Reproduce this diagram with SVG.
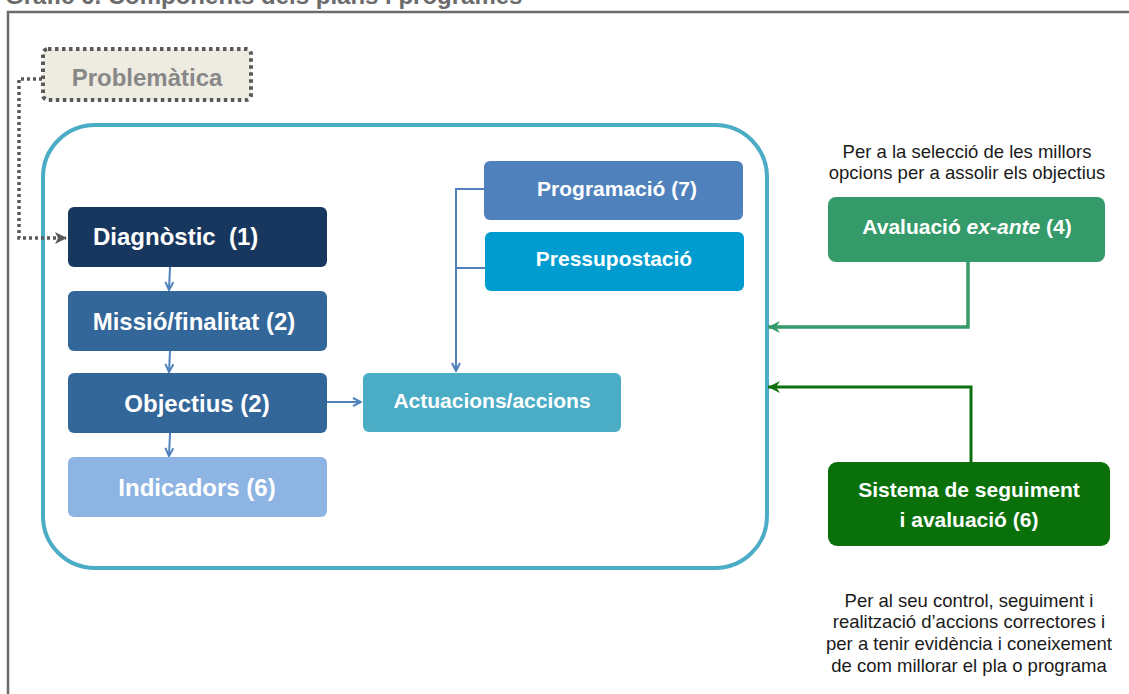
<svg xmlns="http://www.w3.org/2000/svg" width="1129" height="694" viewBox="0 0 1129 694">
  <defs>
    <style>
      .lbl { font-family: "Liberation Sans", Arial, sans-serif; font-weight: bold; font-size: 24px; fill: #ffffff; text-anchor: middle; }
      .lbl.sm { font-size: 21px; }
      .note { font-family: "Liberation Sans", Arial, sans-serif; font-size: 18.5px; fill: #1a1a1a; text-anchor: middle; }
      .blue { stroke: #4f81bd; stroke-width: 2; fill: none; }
    </style>
    <marker id="arrBlue" markerWidth="10" markerHeight="10" refX="9" refY="5" orient="auto" markerUnits="userSpaceOnUse">
      <path d="M1,1 L9,5 L1,9" fill="none" stroke="#4f81bd" stroke-width="2"/>
    </marker>
    <marker id="arrGray" markerWidth="12" markerHeight="12" refX="11" refY="6" orient="auto" markerUnits="userSpaceOnUse">
      <path d="M0,0 L12,6 L0,12 L3,6 Z" fill="#595959"/>
    </marker>
    <marker id="arrGreenA" markerWidth="14" markerHeight="14" refX="13" refY="7" orient="auto" markerUnits="userSpaceOnUse">
      <path d="M1,1 L13,7 L1,13 L5,7 Z" fill="#359a6a"/>
    </marker>
    <marker id="arrGreenB" markerWidth="14" markerHeight="14" refX="13" refY="7" orient="auto" markerUnits="userSpaceOnUse">
      <path d="M1,1 L13,7 L1,13 L5,7 Z" fill="#0a700a"/>
    </marker>
  </defs>

  <rect width="1129" height="694" fill="#ffffff"/>

  <!-- title (runs off the top edge) -->
  <text x="5" y="4" font-family="'Liberation Sans', Arial, sans-serif" font-weight="bold" font-size="24" fill="#6b6b6b">Gràfic 6. Components dels plans i programes</text>

  <!-- outer frame -->
  <path d="M8,694 L8,12 L1129,12" fill="none" stroke="#6b6b6b" stroke-width="2.5"/>

  <!-- plan container -->
  <rect x="43" y="125" width="724" height="443" rx="52" ry="52" fill="none" stroke="#4bacc6" stroke-width="4"/>

  <g id="connectors">
    <!-- problem statement feeds diagnosis -->
    <path d="M42,79 L19,79 L19,238 L66,238" fill="none" stroke="#595959" stroke-width="3.5" stroke-dasharray="3,3" marker-end="url(#arrGray)"/>
    <!-- left column chain -->
    <line class="blue" x1="170" y1="267" x2="169" y2="290" marker-end="url(#arrBlue)"/>
    <line class="blue" x1="170" y1="351" x2="169" y2="372" marker-end="url(#arrBlue)"/>
    <line class="blue" x1="170" y1="433" x2="169" y2="456" marker-end="url(#arrBlue)"/>
    <line class="blue" x1="327" y1="402" x2="361" y2="402" marker-end="url(#arrBlue)"/>
    <!-- programming / budgeting into actions -->
    <path class="blue" d="M484,189 L456,189 L456,371" marker-end="url(#arrBlue)"/>
    <line class="blue" x1="456" y1="268" x2="485" y2="268"/>
    <!-- evaluation feedback -->
    <path d="M968,262 L968,327 L768,327" fill="none" stroke="#359a6a" stroke-width="3.5" marker-end="url(#arrGreenA)"/>
    <path d="M971,462 L971,387 L768,387" fill="none" stroke="#0a700a" stroke-width="3" marker-end="url(#arrGreenB)"/>
  </g>

  <g id="problematica">
    <rect x="43" y="49" width="208" height="51" rx="5" fill="#eeece1" stroke="#595959" stroke-width="4" stroke-dasharray="3.5,3.5"/>
    <text class="lbl" x="147" y="86" style="fill:#888888">Problemàtica</text>
  </g>

  <g id="diagnostic">
    <rect x="68" y="207" width="259" height="60" rx="6" fill="#17375e"/>
    <text class="lbl" x="93" y="245" style="text-anchor:start" xml:space="preserve">Diagnòstic  (1)</text>
  </g>

  <g id="missio">
    <rect x="68" y="291" width="259" height="60" rx="6" fill="#336699"/>
    <text class="lbl" x="194" y="330">Missió/finalitat (2)</text>
  </g>

  <g id="objectius">
    <rect x="68" y="373" width="259" height="60" rx="6" fill="#336699"/>
    <text class="lbl" x="197" y="412">Objectius (2)</text>
  </g>

  <g id="indicadors">
    <rect x="68" y="457" width="259" height="60" rx="6" fill="#8eb4e3"/>
    <text class="lbl" x="197" y="496">Indicadors (6)</text>
  </g>

  <g id="actuacions">
    <rect x="363" y="373" width="258" height="59" rx="6" fill="#4bacc6"/>
    <text class="lbl sm" x="492" y="408">Actuacions/accions</text>
  </g>

  <g id="programacio">
    <rect x="484" y="161" width="259" height="59" rx="6" fill="#4f81bd"/>
    <text class="lbl sm" x="617" y="196">Programació (7)</text>
  </g>

  <g id="pressupostacio">
    <rect x="485" y="232" width="259" height="59" rx="6" fill="#009ccf"/>
    <text class="lbl sm" x="614" y="266">Pressupostació</text>
  </g>

  <g id="avaluacio-exante">
    <text class="note" x="967" y="158">Per a la selecció de les millors</text>
    <text class="note" x="967" y="179">opcions per a assolir els objectius</text>
    <rect x="828" y="197" width="277" height="65" rx="8" fill="#359a6a"/>
    <text class="lbl sm" x="967" y="234">Avaluació <tspan font-style="italic">ex-ante</tspan> (4)</text>
  </g>

  <g id="seguiment">
    <rect x="828" y="462" width="282" height="84" rx="9" fill="#0a700a"/>
    <text class="lbl sm" x="969" y="497">Sistema de seguiment</text>
    <text class="lbl sm" x="969" y="527">i avaluació (6)</text>
    <text class="note" x="969" y="607">Per al seu control, seguiment i</text>
    <text class="note" x="969" y="628">realització d’accions correctores i</text>
    <text class="note" x="969" y="650">per a tenir evidència i coneixement</text>
    <text class="note" x="969" y="672">de com millorar el pla o programa</text>
  </g>
</svg>
